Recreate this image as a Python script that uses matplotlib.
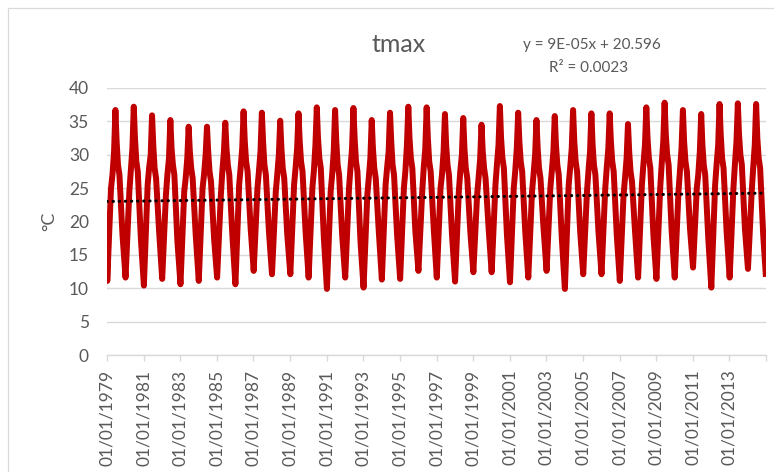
import matplotlib
matplotlib.use("Agg")
import matplotlib.pyplot as plt
from matplotlib.patches import Rectangle
import datetime as dt

plt.rcParams['font.family'] = ['Lato', 'DejaVu Sans']

# ---- data ----
years = list(range(1979, 2015))
# January minimum (winter trough), °C
jan_min = [11.1, 11.6, 10.4, 11.4, 10.6, 11.1, 11.6, 10.6, 12.6, 12.1,
           12.1, 11.6, 9.9, 11.6, 10.1, 11.3, 11.4, 12.6, 11.6, 11.0,
           12.4, 12.4, 10.9, 11.6, 12.6, 9.9, 12.1, 12.1, 11.1, 11.6,
           11.4, 11.6, 13.1, 10.1, 11.6, 12.9]
# late-March value on the rising limb
mar_rise = [25.0, 24.5, 25.5, 24.0, 24.5, 25.0, 24.0, 25.5, 25.0, 24.5,
            25.5, 25.0, 24.5, 25.0, 24.0, 25.5, 25.0, 24.5, 25.0, 24.5,
            24.0, 25.5, 25.0, 24.5, 25.0, 25.5, 24.5, 25.0, 24.0, 25.5,
            25.0, 24.5, 25.0, 25.5, 25.0, 24.5]
# April shoulder
apr_shoulder = [27.0, 27.5, 28.0, 27.0, 26.5, 27.0, 27.5, 28.0, 27.5, 27.0,
                28.0, 27.5, 27.0, 28.0, 26.5, 28.0, 27.5, 28.0, 27.0, 27.5,
                26.5, 28.5, 27.5, 27.0, 27.5, 28.0, 27.5, 28.0, 26.5, 28.5,
                28.5, 27.5, 27.0, 28.5, 28.5, 28.0]
# May value
may_value = [30.5, 31.0, 30.0, 29.5, 29.5, 30.0, 30.5, 31.0, 30.5, 30.0,
             31.0, 31.5, 30.5, 31.0, 29.5, 30.5, 31.5, 31.0, 30.5, 30.0,
             29.5, 31.5, 31.0, 30.0, 30.5, 31.0, 30.5, 31.0, 29.5, 31.5,
             32.0, 31.0, 30.5, 31.5, 32.0, 31.5]
# June maximum (summer peak)
jun_max = [36.7, 37.2, 35.9, 35.2, 34.2, 34.2, 34.8, 36.5, 36.3, 35.1,
           36.2, 37.1, 36.7, 37.0, 35.2, 36.3, 37.2, 37.1, 36.1, 35.5,
           34.5, 37.3, 36.3, 35.2, 35.8, 36.7, 36.2, 36.2, 34.6, 37.1,
           37.8, 36.7, 36.1, 37.6, 37.7, 37.6]
# July value
jul_value = [32.0, 32.5, 31.5, 31.0, 30.5, 30.5, 31.0, 32.0, 32.0, 31.0,
             32.0, 32.5, 32.0, 32.5, 31.0, 32.0, 32.5, 32.5, 31.5, 31.0,
             30.5, 32.5, 32.0, 31.0, 31.5, 32.0, 31.5, 32.0, 30.5, 32.5,
             33.0, 32.0, 31.5, 33.0, 33.0, 32.5]
# August shoulder
aug_shoulder = [28.5, 29.0, 28.0, 28.5, 28.0, 27.5, 28.5, 29.0, 28.5, 28.0,
                29.0, 29.5, 28.5, 29.0, 28.0, 28.5, 29.5, 29.0, 28.5, 28.0,
                28.0, 29.5, 29.0, 28.0, 28.5, 29.0, 28.5, 29.0, 27.5, 29.5,
                30.0, 29.0, 28.5, 29.5, 30.0, 29.5]
# early-September value
sep_value = [27.0, 27.5, 26.5, 27.0, 26.5, 26.0, 27.0, 27.5, 27.0, 26.5,
             27.5, 28.0, 27.0, 27.5, 26.5, 27.0, 28.0, 27.5, 27.0, 26.5,
             26.5, 28.0, 27.5, 26.5, 27.0, 27.5, 27.0, 27.5, 26.0, 28.0,
             28.5, 27.5, 27.0, 28.0, 28.5, 28.0]
# early-November value on the falling limb
nov_value = [18.0, 17.5, 18.5, 17.0, 18.0, 17.5, 18.0, 19.0, 18.5, 18.0,
             18.5, 17.5, 18.0, 17.0, 18.5, 18.0, 18.5, 19.0, 18.0, 18.5,
             19.0, 18.0, 18.5, 19.0, 17.5, 18.5, 18.5, 18.0, 18.5, 18.0,
             18.5, 19.0, 17.5, 18.5, 19.0, 18.0]
start_value = 19.0      # 1 Jan 1979
end_value = 11.7        # 31 Dec 2014

# trendline as drawn on the chart (start / end values)
trend_start = 23.0
trend_end = 24.25
eq_text = "y = 9E-05x + 20.596"
r2_text = "R\u00b2 = 0.0023"

# ---- build series ----
dates, vals = [dt.date(1979, 1, 1)], [start_value]
for i, y in enumerate(years):
    pts = [(dt.date(y, 1, 6), jan_min[i]),
           (dt.date(y, 3, 22), mar_rise[i]),
           (dt.date(y, 4, 20), apr_shoulder[i]),
           (dt.date(y, 5, 22), may_value[i]),
           (dt.date(y, 6, 18), jun_max[i]),
           (dt.date(y, 7, 12), jul_value[i]),
           (dt.date(y, 8, 8), aug_shoulder[i]),
           (dt.date(y, 9, 6), sep_value[i]),
           (dt.date(y, 11, 6), nov_value[i])]
    for d, v in pts:
        dates.append(d)
        vals.append(v)
dates.append(dt.date(2014, 12, 31))
vals.append(end_value)

fig = plt.figure(figsize=(7.74, 4.72), dpi=100)
fig.patch.set_facecolor('white')
# chart border
fig.patches.append(Rectangle((8 / 774, -0.5), 1.2, 1.5 - 8 / 472,
                             transform=fig.transFigure, fill=False,
                             edgecolor='#d9d9d9', linewidth=0.9))

ax = fig.add_axes([107 / 774, 1 - 355 / 472, (766 - 107) / 774, (355 - 88) / 472])
ax.set_facecolor('white')

ax.plot(dates, vals, color='#c00000', linewidth=4.3, solid_joinstyle='round',
        solid_capstyle='butt', zorder=3)

# trendline
ax.plot([dt.date(1979, 1, 1), dt.date(2014, 12, 31)], [trend_start, trend_end],
        color='black', linewidth=2.2, linestyle=(0, (0.1, 1.9)),
        dash_capstyle='round', zorder=4)

ax.set_xlim(dt.date(1979, 1, 1), dt.date(2015, 1, 1))
ax.set_ylim(0, 40)
ax.set_yticks(range(0, 41, 5))
tick_dates = [dt.date(y, 1, 1) for y in range(1979, 2016, 2)]
ax.set_xticks(tick_dates)
ax.set_xticklabels([d.strftime('%d/%m/%Y') if d.year < 2015 else '' for d in tick_dates],
                   rotation=90)

ax.grid(axis='y', color='#d9d9d9', linewidth=1.0, zorder=0)
for s in ['top', 'right', 'left']:
    ax.spines[s].set_visible(False)
ax.spines['bottom'].set_color('#d9d9d9')
ax.spines['bottom'].set_linewidth(1.0)
ax.tick_params(axis='x', colors='#d9d9d9', labelcolor='#595959', length=4.5,
               width=1.0, direction='out', pad=6, labelsize=12.5)
ax.tick_params(axis='y', length=0, pad=13, labelcolor='#595959', labelsize=12.5)

fig.text(49 / 774, 1 - 221.5 / 472, '\u00b0C', rotation=90, ha='center', va='center',
         color='#595959', fontsize=13)
fig.text(399 / 774, 1 - 45 / 472, 'tmax', ha='center', va='center',
         color='#595959', fontsize=18)
fig.text(592 / 774, 1 - 45 / 472, eq_text, ha='center', va='center',
         color='#595959', fontsize=11)
fig.text(589 / 774, 1 - 68 / 472, r2_text, ha='center', va='center',
         color='#595959', fontsize=11)

fig.savefig('out.png', dpi=100, facecolor='white')
